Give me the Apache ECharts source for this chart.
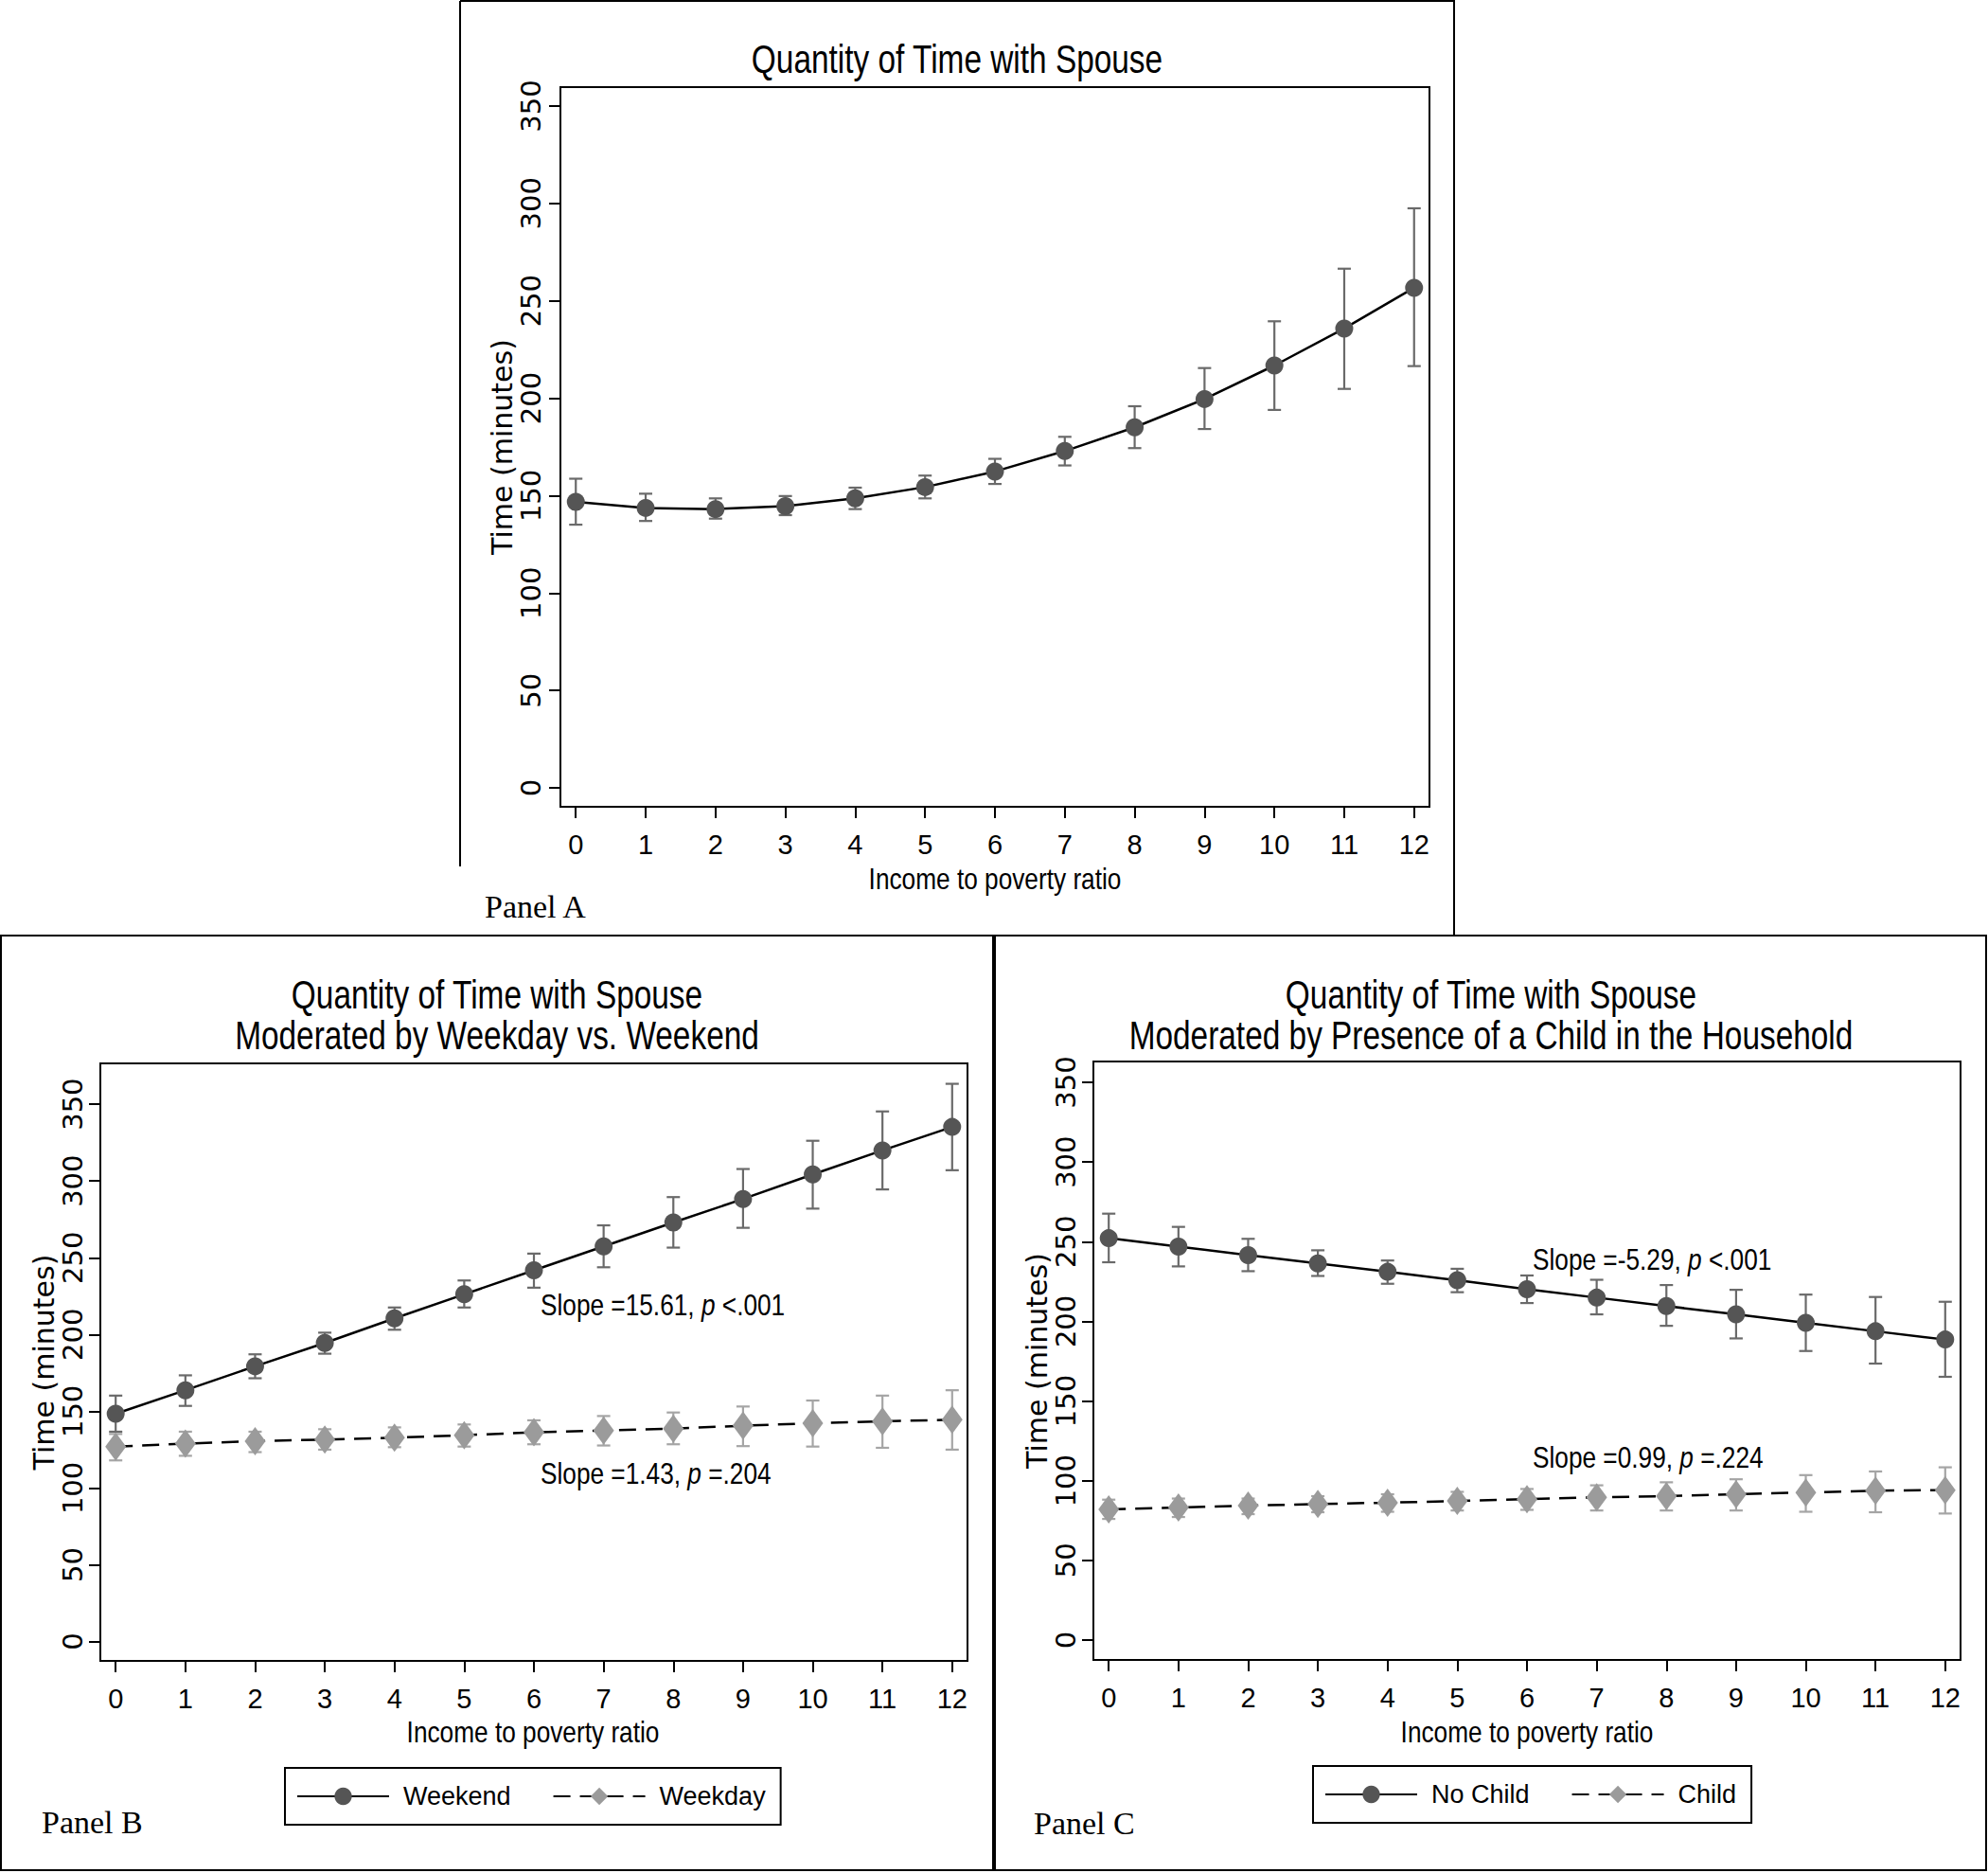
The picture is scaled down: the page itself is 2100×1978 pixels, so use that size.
<!DOCTYPE html>
<html>
<head>
<meta charset="utf-8">
<title>Quantity of Time with Spouse</title>
<script src="https://cdn.jsdelivr.net/npm/echarts@6/dist/echarts.min.js"></script>
<style>
  html, body { margin: 0; padding: 0; background: #fff; }
  #chart { width: 2100px; height: 1978px; }
</style>
</head>
<body>
<div id="chart"></div>
<script>
// x categories (income to poverty ratio) and y tick labels
var ratios = [0, 1, 2, 3, 4, 5, 6, 7, 8, 9, 10, 11, 12];
var yTicks = [0, 50, 100, 150, 200, 250, 300, 350];

// Panel A - overall
var overallMean = [146.8, 143.7, 143.1, 144.6, 148.6, 154.4, 162.4, 172.9, 185.1, 199.6, 216.8, 235.8, 256.7];
var overallLo   = [135.1, 137.0, 138.2, 140.0, 143.1, 148.6, 156.0, 165.5, 174.4, 184.2, 194.0, 204.8, 216.5];
var overallHi   = [158.7, 151.0, 148.6, 149.8, 154.1, 160.3, 168.9, 180.2, 195.9, 215.5, 239.5, 266.5, 297.5];

// Panel B - weekend / weekday
var weekendMean = [148.4, 163.7, 179.3, 194.5, 210.5, 226.2, 241.8, 257.4, 273.0, 288.3, 304.3, 319.9, 335.2];
var weekendLo   = [136.7, 153.5, 171.5, 187.5, 203.1, 217.6, 230.5, 243.8, 256.6, 269.5, 282.0, 294.5, 307.0];
var weekendHi   = [160.2, 173.4, 187.1, 201.2, 217.6, 235.2, 252.7, 271.1, 289.5, 307.8, 326.2, 345.3, 363.3];
var weekdayMean = [127.0, 128.9, 130.5, 131.6, 132.8, 134.4, 136.3, 137.5, 138.7, 140.6, 142.2, 143.4, 144.5];
var weekdayLo   = [118.0, 121.0, 123.4, 125.0, 126.6, 127.0, 128.5, 127.7, 128.5, 127.3, 127.0, 126.2, 125.0];
var weekdayHi   = [135.2, 136.7, 136.7, 138.3, 139.5, 141.4, 144.1, 146.9, 149.2, 153.1, 157.0, 160.2, 163.7];

// Panel C - no child / child
var noChildMean = [252.2, 246.9, 241.6, 236.4, 231.1, 225.8, 220.2, 214.9, 209.6, 204.4, 199.1, 193.8, 188.6];
var noChildLo   = [237.1, 234.5, 231.5, 228.5, 223.6, 218.3, 211.5, 204.4, 197.2, 189.3, 181.4, 173.5, 165.2];
var noChildHi   = [267.6, 259.3, 251.8, 244.6, 238.2, 233.0, 228.8, 226.1, 222.8, 219.8, 216.8, 215.3, 212.3];
var childMean   = [82.0, 83.2, 84.3, 85.4, 86.2, 87.3, 88.4, 89.6, 90.3, 91.5, 92.6, 93.7, 94.1];
var childLo     = [76.0, 77.2, 79.0, 80.2, 80.5, 81.3, 81.7, 81.3, 81.3, 81.3, 80.5, 80.2, 79.4];
var childHi     = [88.1, 88.8, 88.8, 90.3, 91.5, 93.0, 94.8, 97.1, 99.0, 100.9, 103.5, 105.8, 108.4];

var SANS = '"Liberation Sans", Arial, sans-serif';
var WIDE = '"DejaVu Sans", Verdana, sans-serif';
var SERIF = '"Liberation Serif", "Times New Roman", serif';

var DARK = '#555555';
var LIGHT = '#9b9b9b';

function pairs(ys) {
  return ratios.map(function (x, i) { return [x, ys[i]]; });
}
function ranges(lo, hi) {
  return ratios.map(function (x, i) { return [x, lo[i], hi[i]]; });
}

function makeErr(color) {
  return function (params, api) {
    var x = api.value(0);
    var lo = api.coord([x, api.value(1)]);
    var hi = api.coord([x, api.value(2)]);
    var w = 7;
    var st = { stroke: color, lineWidth: 2.2 };
    return {
      type: 'group',
      children: [
        { type: 'line', shape: { x1: hi[0], y1: hi[1], x2: lo[0], y2: lo[1] }, style: st },
        { type: 'line', shape: { x1: hi[0] - w, y1: hi[1], x2: hi[0] + w, y2: hi[1] }, style: st },
        { type: 'line', shape: { x1: lo[0] - w, y1: lo[1], x2: lo[0] + w, y2: lo[1] }, style: st }
      ]
    };
  };
}

function xAxisFor(idx) {
  return {
    gridIndex: idx, type: 'value', min: -0.22, max: 12.22,
    axisLine: { show: true, onZero: false, lineStyle: { color: '#000', width: 2 } },
    axisTick: { show: true, length: 12, customValues: ratios, lineStyle: { color: '#000', width: 2 } },
    axisLabel: { customValues: ratios, margin: 25, color: '#000', fontFamily: SANS, fontSize: 29 },
    splitLine: { show: false }
  };
}

function yAxisFor(idx, min, max, labelMargin, nameGap) {
  return {
    gridIndex: idx, type: 'value', min: min, max: max,
    axisLine: { show: true, onZero: false, lineStyle: { color: '#000', width: 2 } },
    axisTick: { show: true, length: 12, customValues: yTicks, lineStyle: { color: '#000', width: 2 } },
    axisLabel: { customValues: yTicks, rotate: 90, margin: labelMargin, color: '#000', fontFamily: WIDE, fontSize: 29 },
    splitLine: { show: false },
    name: 'Time (minutes)', nameLocation: 'middle', nameGap: nameGap,
    nameTextStyle: { color: '#000', fontFamily: WIDE, fontSize: 30 }
  };
}

function errSeries(idx, lo, hi, color, name) {
  return {
    type: 'custom', name: name, xAxisIndex: idx, yAxisIndex: idx,
    renderItem: makeErr(color), data: ranges(lo, hi),
    encode: { x: 0, y: [1, 2] }, z: 1, silent: true
  };
}

function lineSeries(idx, name, ys, dashed) {
  return {
    type: 'line', name: name, xAxisIndex: idx, yAxisIndex: idx,
    data: pairs(ys),
    symbol: dashed ? 'diamond' : 'circle',
    symbolSize: dashed ? [22, 30] : 19,
    itemStyle: { color: dashed ? LIGHT : DARK },
    lineStyle: { color: '#000', width: 2.5, type: dashed ? [18, 10] : 'solid' },
    z: 3
  };
}

function legendFor(left, top, names) {
  return {
    left: left, top: top, orient: 'horizontal',
    data: names,
    itemWidth: 97, itemHeight: 23, itemGap: 44,
    padding: [13, 16, 13, 12],
    borderColor: '#000', borderWidth: 2,
    textStyle: { color: '#000', fontFamily: SANS, fontSize: 27, lineHeight: 34, padding: [0, 0, 0, 10] }
  };
}

// narrow text: Liberation Sans squeezed horizontally
function txt(x, y, text, size, align, sx, extra) {
  var style = { text: text, fontFamily: SANS, fontSize: size, fill: '#000', align: align || 'left', verticalAlign: 'middle' };
  if (extra) { for (var k in extra) style[k] = extra[k]; }
  return { type: 'text', x: x, y: y, scaleX: sx, style: style, z: 10 };
}

function slope(x, y, before, after) {
  return txt(x, y, '{n|' + before + '}{i|p}{n|' + after + '}', 32, 'left', 0.82, {
    rich: {
      n: { fontFamily: SANS, fontSize: 32, fill: '#000' },
      i: { fontFamily: SANS, fontSize: 32, fontStyle: 'italic', fill: '#000' }
    }
  });
}

function panelLabel(x, y, text) {
  return { type: 'text', x: x, y: y, style: { text: text, fontFamily: SERIF, fontSize: 34, fill: '#000', verticalAlign: 'middle' }, z: 10 };
}

function hline(x1, y1, x2, y2) {
  return { type: 'line', shape: { x1: x1, y1: y1, x2: x2, y2: y2 }, style: { stroke: '#000', lineWidth: 2 }, z: 10 };
}

var TS = 0.795;  // title squeeze
var XS = 0.82;   // axis title squeeze

var chart = echarts.init(document.getElementById('chart'), null, { renderer: 'svg' });

var option = {
  animation: false,
  backgroundColor: '#fff',
  grid: [
    { left: 592, top: 92, width: 918, height: 760, show: true, borderColor: '#000', borderWidth: 2 },
    { left: 106, top: 1123, width: 916, height: 631, show: true, borderColor: '#000', borderWidth: 2 },
    { left: 1155, top: 1121, width: 916, height: 632, show: true, borderColor: '#000', borderWidth: 2 }
  ],
  xAxis: [xAxisFor(0), xAxisFor(1), xAxisFor(2)],
  yAxis: [
    yAxisFor(0, -9.7, 359.7, 17, 44),
    yAxisFor(1, -12.6, 376.6, 15, 45),
    yAxisFor(2, -12.5, 363.1, 15, 43)
  ],
  legend: [
    legendFor(301, 1867, ['Weekend', 'Weekday']),
    legendFor(1387, 1865, ['No Child', 'Child'])
  ],
  series: [
    errSeries(0, overallLo, overallHi, '#6a6a6a', 'errA'),
    lineSeries(0, 'Overall', overallMean, false),
    errSeries(1, weekendLo, weekendHi, '#6a6a6a', 'errWeekend'),
    errSeries(1, weekdayLo, weekdayHi, '#a5a5a5', 'errWeekday'),
    lineSeries(1, 'Weekend', weekendMean, false),
    lineSeries(1, 'Weekday', weekdayMean, true),
    errSeries(2, noChildLo, noChildHi, '#6a6a6a', 'errNoChild'),
    errSeries(2, childLo, childHi, '#a5a5a5', 'errChild'),
    lineSeries(2, 'No Child', noChildMean, false),
    lineSeries(2, 'Child', childMean, true)
  ],
  graphic: [
    // panel frames
    hline(486, 1, 1536, 1),
    hline(486, 1, 486, 915),
    hline(1536, 0, 1536, 988),
    { type: 'rect', shape: { x: 1, y: 988, width: 1048, height: 987 }, style: { fill: 'none', stroke: '#000', lineWidth: 2 }, z: 10 },
    { type: 'rect', shape: { x: 1051, y: 988, width: 1047, height: 987 }, style: { fill: 'none', stroke: '#000', lineWidth: 2 }, z: 10 },
    // titles
    txt(1011, 63, 'Quantity of Time with Spouse', 42, 'center', TS),
    txt(525, 1051, 'Quantity of Time with Spouse', 42, 'center', TS),
    txt(525, 1094, 'Moderated by Weekday vs. Weekend', 42, 'center', TS),
    txt(1575, 1051, 'Quantity of Time with Spouse', 42, 'center', TS),
    txt(1575, 1094, 'Moderated by Presence of a Child in the Household', 42, 'center', TS),
    // x axis titles
    txt(1051, 928, 'Income to poverty ratio', 32, 'center', XS),
    txt(563, 1829, 'Income to poverty ratio', 32, 'center', XS),
    txt(1613, 1829, 'Income to poverty ratio', 32, 'center', XS),
    // panel labels
    panelLabel(512, 957, 'Panel A'),
    panelLabel(44, 1924, 'Panel B'),
    panelLabel(1092, 1925, 'Panel C'),
    // slope notes
    slope(571, 1378, 'Slope =15.61, ', ' <.001'),
    slope(571, 1556, 'Slope =1.43, ', ' =.204'),
    slope(1619, 1330, 'Slope =-5.29, ', ' <.001'),
    slope(1619, 1539, 'Slope =0.99, ', ' =.224')
  ]
};

chart.setOption(option);
</script>
</body>
</html>
